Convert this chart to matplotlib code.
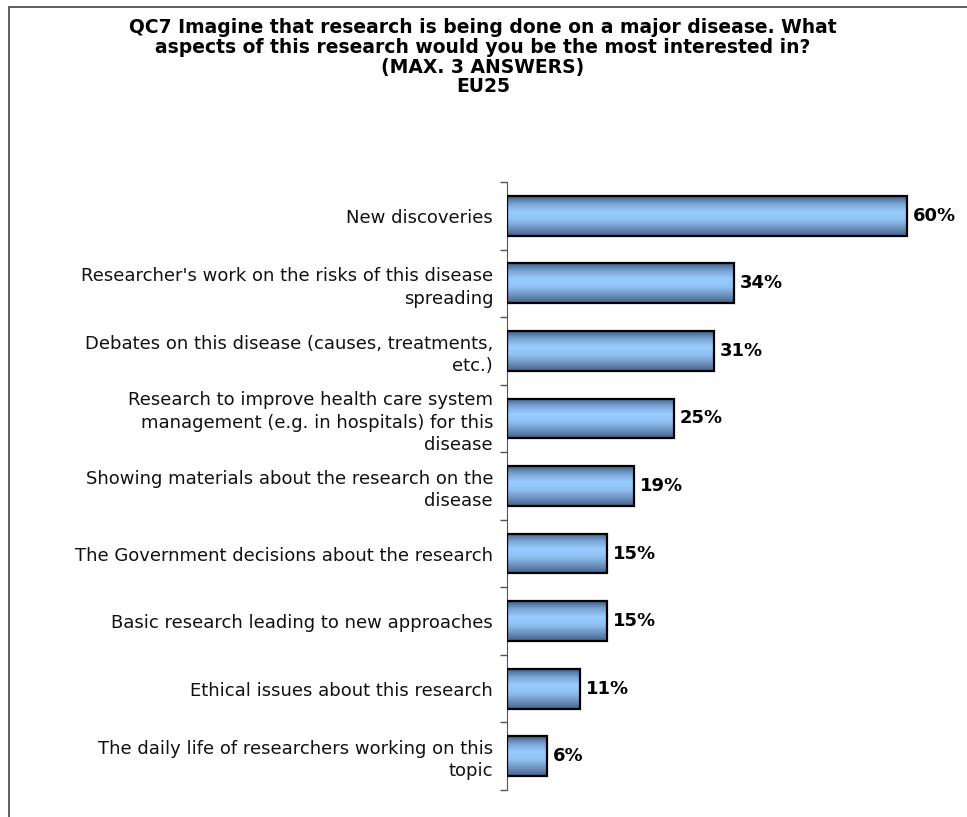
import numpy as np
import matplotlib.pyplot as plt
from matplotlib.patches import Rectangle
from matplotlib.colors import LinearSegmentedColormap

categories = [
    "New discoveries",
    "Researcher's work on the risks of this disease\nspreading",
    "Debates on this disease (causes, treatments,\netc.)",
    "Research to improve health care system\nmanagement (e.g. in hospitals) for this\ndisease",
    "Showing materials about the research on the\ndisease",
    "The Government decisions about the research",
    "Basic research leading to new approaches",
    "Ethical issues about this research",
    "The daily life of researchers working on this\ntopic",
]
values = [60, 34, 31, 25, 19, 15, 15, 11, 6]

title = ("QC7 Imagine that research is being done on a major disease. What\n"
         "aspects of this research would you be the most interested in?\n"
         "(MAX. 3 ANSWERS)\nEU25")

W, H = 967, 817
fig = plt.figure(figsize=(W / 100, H / 100), dpi=100)
ax = fig.add_axes([507 / W, 1 - 790 / H, 440 / W, 608 / H])

# shaded bar look: dark edges, light middle
cmap = LinearSegmentedColormap.from_list(
    "bar", ["#3f5f86", "#7aa6d6", "#99ccff", "#8fc0f2", "#6f93bf", "#41618a"])
grad = np.linspace(0, 1, 256).reshape(-1, 1)

n = len(values)
bh = 0.59
for i, v in enumerate(values):
    ax.imshow(grad, cmap=cmap, aspect="auto", interpolation="bilinear",
              extent=(0, v, i + bh / 2, i - bh / 2), zorder=2)
    ax.add_patch(Rectangle((0, i - bh / 2), v, bh, fill=False,
                           edgecolor="black", linewidth=1.6, zorder=3))
    ax.text(v + 0.9, i, f"{v}%", va="center", ha="left",
            fontsize=13, fontweight="bold", color="black")

ax.set_xlim(0, 66)
ax.set_ylim(n - 0.5, -0.5)

ax.set_yticks(range(n))
ax.set_yticklabels(categories, fontsize=13, color="#111111",
                   multialignment="right", linespacing=1.3)
ax.tick_params(axis="y", which="major", length=0, pad=10)
ax.set_yticks(np.arange(-0.5, n, 1), minor=True)
ax.tick_params(axis="y", which="minor", length=5, width=1, color="#555555")
ax.set_xticks([])
for s in ["top", "right", "bottom"]:
    ax.spines[s].set_visible(False)
ax.spines["left"].set_color("#555555")

fig.text(483 / W, 1 - 18 / H, title, ha="center", va="top", fontsize=13.5,
         fontweight="bold", linespacing=1.05)

fig.patches.append(Rectangle((9 / W, -0.01), 1.0, 1 - 7 / H + 0.01,
                             transform=fig.transFigure, fill=False,
                             edgecolor="#444444", linewidth=1.2))

fig.savefig("out.png", dpi=100)
